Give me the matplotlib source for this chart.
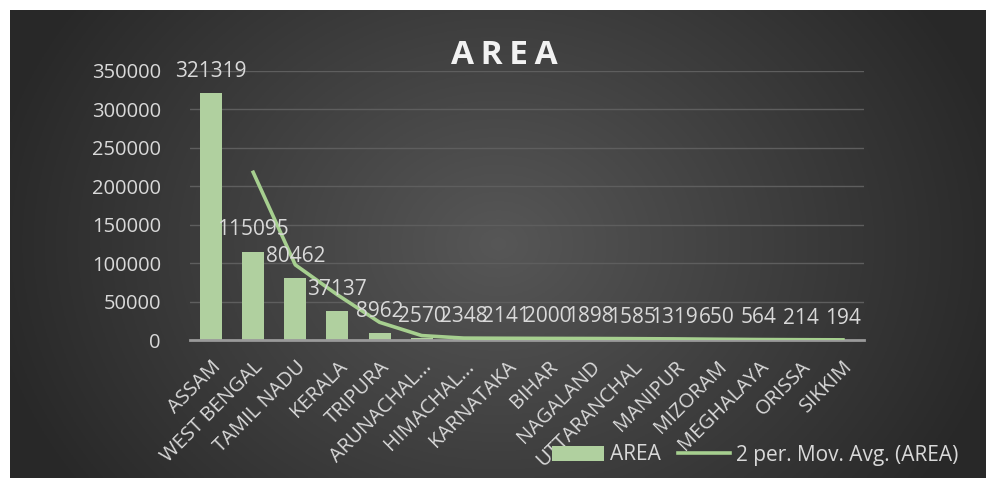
import matplotlib.pyplot as plt
import numpy as np

states = ['ASSAM', 'WEST BENGAL', 'TAMIL NADU', 'KERALA', 'TRIPURA',
          'ARUNACHAL...', 'HIMACHAL...', 'KARNATAKA', 'BIHAR', 'NAGALAND',
          'UTTARANCHAL', 'MANIPUR', 'MIZORAM', 'MEGHALAYA', 'ORISSA', 'SIKKIM']
area = [321319, 115095, 80462, 37137, 8962, 2570, 2348, 2141, 2000, 1898,
        1585, 1319, 650, 564, 214, 194]
y_ticks = [0, 50000, 100000, 150000, 200000, 250000, 300000, 350000]

txt = '#d9d9d9'
bar_c = '#b0d09f'
line_c = '#a6cf8f'
font = 'Open Sans'

fig = plt.figure(figsize=(9.87, 4.78), dpi=100)
fig.patch.set_facecolor('white')

# dark gradient panel behind the chart
bg = fig.add_axes([10 / 987, 0, 977 / 987, 468 / 478])
xx = np.linspace(-1, 1, 400)
yy = np.linspace(-1, 1, 200)
X, Y = np.meshgrid(xx, yy)
g = 1 - np.clip(np.sqrt((X / 1.05) ** 2 + (Y / 1.8) ** 2), 0, 1)
v = 0.16 + 0.18 * g
bg.imshow(np.dstack([v, v, v]), aspect='auto', extent=[0, 1, 0, 1])
bg.axis('off')

ax = fig.add_axes([190 / 987, 1 - 340 / 478, 674 / 987, 269 / 478])
ax.patch.set_alpha(0)
x = np.arange(len(states))
ax.bar(x, area, width=0.52, color=bar_c, zorder=2, label='AREA')

mov = [(area[i - 1] + area[i]) / 2 for i in range(1, len(area))]
ax.plot(x[1:], mov, color=line_c, lw=2.6, zorder=3,
        label='2 per. Mov. Avg. (AREA)')

for xi, val in zip(x, area):
    ax.annotate(str(val), (xi, val), xytext=(0, 8), textcoords='offset points',
                ha='center', va='bottom', color=txt, fontsize=15,
                family=font, zorder=4)

ax.set_xlim(-0.5, len(states) - 0.5)
ax.set_ylim(0, 350000)
ax.set_yticks(y_ticks)
ax.set_yticklabels([str(t) for t in y_ticks], family=font, fontsize=14.5, color=txt)
ax.set_xticks(x)
ax.set_xticklabels(states, rotation=45, ha='right', rotation_mode='anchor',
                   family=font, fontsize=14.5, color=txt)
ax.tick_params(length=0, pad=21)
ax.tick_params(axis='x', pad=12)
ax.grid(axis='y', color='#5e5e5e', lw=1, zorder=0)
for s in ['top', 'right', 'left']:
    ax.spines[s].set_visible(False)
ax.spines['bottom'].set_color('#9a9a9a')
ax.spines['bottom'].set_linewidth(2)

fig.text(504 / 987, 1 - 56 / 478, 'A\u2009R\u2009E\u2009A', ha='center', va='center',
         color='#f2f2f2', fontsize=24, fontweight='bold',
         family=[font, 'DejaVu Sans'])

h, l = ax.get_legend_handles_labels()
leg = ax.legend(h[::-1], l[::-1], loc='center',
                bbox_to_anchor=(755 / 987, 1 - 455 / 478),
                bbox_transform=fig.transFigure, ncol=2, frameon=False,
                prop={'family': font, 'size': 15}, labelcolor=txt,
                handlelength=2.5, columnspacing=0.8, handletextpad=0.3)

fig.savefig('out.png', dpi=100)
